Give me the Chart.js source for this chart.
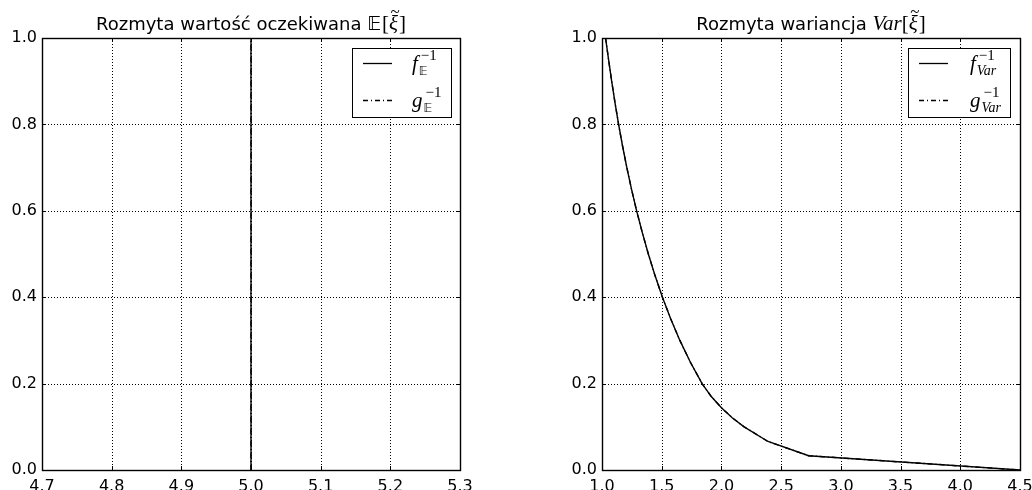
<!DOCTYPE html>
<html><head><meta charset="utf-8">
<script src="https://cdn.jsdelivr.net/npm/chart.js@4"></script>
<style>
html,body{margin:0;padding:0;background:#fff;}
#wrap{position:relative;width:1032px;height:490px;overflow:hidden;}
canvas{position:absolute;top:0;}
</style></head><body>
<div id="wrap"><canvas id="c1" width="516" height="490" style="left:0"></canvas><canvas id="c2" width="516" height="490" style="left:516px"></canvas></div>
<script>
// ---- data ----
const yTicks = [0.0, 0.2, 0.4, 0.6, 0.8, 1.0];
const xTicksE = [4.7, 4.8, 4.9, 5.0, 5.1, 5.2, 5.3];
const xTicksVar = [1.0, 1.5, 2.0, 2.5, 3.0, 3.5, 4.0, 4.5];

const fE_x = [5.0, 5.0];
const fE_y = [0.0, 1.0];
const gE_x = [5.0, 5.0];
const gE_y = [0.0, 1.0];

const fVar_x = [1.03, 1.055, 1.081, 1.109, 1.139, 1.172, 1.208, 1.247, 1.29, 1.337, 1.388, 1.444, 1.506, 1.575, 1.652, 1.739, 1.838, 1.915, 2.0, 2.09, 2.19, 2.39, 2.73, 4.5];
const fVar_y = [1.0, 0.95, 0.90, 0.85, 0.80, 0.75, 0.70, 0.65, 0.60, 0.55, 0.50, 0.45, 0.40, 0.35, 0.30, 0.25, 0.20, 0.17, 0.144, 0.121, 0.100, 0.066, 0.033, 0.0];
const gVar_x = [1.03, 1.055, 1.081, 1.109, 1.139, 1.172, 1.208, 1.247, 1.29, 1.337, 1.388, 1.444, 1.506, 1.575, 1.652, 1.739, 1.838, 1.915, 2.0, 2.09, 2.19, 2.39, 2.73, 4.5];
const gVar_y = [1.0, 0.95, 0.90, 0.85, 0.80, 0.75, 0.70, 0.65, 0.60, 0.55, 0.50, 0.45, 0.40, 0.35, 0.30, 0.25, 0.20, 0.17, 0.144, 0.121, 0.100, 0.066, 0.033, 0.0];

const titleE = "Rozmyta wartość oczekiwana ";
const titleVar = "Rozmyta wariancja ";
// ---- end data ----

const SANS = "'DejaVu Sans', sans-serif";
const SERIF = "'Liberation Serif', 'DejaVu Serif', serif";
const DASHDOT = [5, 3, 1, 3];

function pts(xs, ys){ return xs.map((x,i)=>({x:x, y:ys[i]})); }

function drawParts(ctx, x, y, parts, measureOnly){
  let cx = x;
  for(const p of parts){
    ctx.font = p.font;
    const w = ctx.measureText(p.t).width;
    if(!measureOnly){
      ctx.fillText(p.t, cx + (p.dx||0), y + (p.dy||0));
      if(p.tilde){
        ctx.save();
        ctx.font = p.tildeFont;
        const tw = ctx.measureText("~").width;
        ctx.fillText("~", cx + w/2 - tw/2 + 1.5, y - p.tildeUp);
        ctx.restore();
      }
    }
    cx += w + (p.after||0);
  }
  return cx - x;
}

function makePlugin(cfg){
  return {
    id:'mpl',
    beforeDatasetsDraw(chart){
      const ctx = chart.ctx, a = chart.chartArea;
      const xs = chart.scales.x, ys = chart.scales.y;
      ctx.save();
      ctx.strokeStyle = '#000';
      ctx.lineWidth = 1;
      ctx.setLineDash([1,2]);
      for(const v of cfg.xTicks){
        const px = Math.round(xs.getPixelForValue(v)) + 0.5;
        ctx.beginPath(); ctx.moveTo(px, a.top); ctx.lineTo(px, a.bottom); ctx.stroke();
      }
      for(const v of yTicks){
        const py = Math.round(ys.getPixelForValue(v)) + 0.5;
        ctx.beginPath(); ctx.moveTo(a.left, py); ctx.lineTo(a.right, py); ctx.stroke();
      }
      ctx.restore();
    },
    afterDraw(chart){
      const ctx = chart.ctx, a = chart.chartArea;
      const xs = chart.scales.x, ys = chart.scales.y;
      ctx.save();
      ctx.setLineDash([]);
      ctx.strokeStyle = '#000';
      ctx.lineWidth = 1;
      const L = 4;
      ctx.beginPath();
      for(const v of cfg.xTicks){
        const px = Math.round(xs.getPixelForValue(v)) + 0.5;
        ctx.moveTo(px, a.bottom); ctx.lineTo(px, a.bottom - L);
        ctx.moveTo(px, a.top); ctx.lineTo(px, a.top + L);
      }
      for(const v of yTicks){
        const py = Math.round(ys.getPixelForValue(v)) + 0.5;
        ctx.moveTo(a.left, py); ctx.lineTo(a.left + L, py);
        ctx.moveTo(a.right, py); ctx.lineTo(a.right - L, py);
      }
      ctx.stroke();
      ctx.lineWidth = 1.4;
      ctx.strokeRect(Math.round(a.left)+0.5, Math.round(a.top)+0.5, Math.round(a.right-a.left), Math.round(a.bottom-a.top));
      // title
      ctx.fillStyle = '#000';
      ctx.textBaseline = 'alphabetic';
      ctx.textAlign = 'left';
      const tw = drawParts(ctx, 0, 0, cfg.title, true);
      const cxm = (a.left + a.right)/2;
      drawParts(ctx, cxm - tw/2, 30, cfg.title, false);
      // legend
      const b = cfg.box;
      ctx.fillStyle = '#fff';
      ctx.fillRect(b.x, b.y, b.w, b.h);
      ctx.lineWidth = 1;
      ctx.strokeStyle = '#000';
      ctx.strokeRect(b.x + 0.5, b.y + 0.5, b.w, b.h);
      ctx.fillStyle = '#000';
      cfg.legend.forEach((e, i)=>{
        const ly = b.y + 15.5 + i*37;
        ctx.save();
        ctx.lineWidth = 1.3;
        ctx.setLineDash(e.dash);
        ctx.beginPath(); ctx.moveTo(b.x + 11, ly); ctx.lineTo(b.x + 40, ly); ctx.stroke();
        ctx.restore();
        const tx = b.x + cfg.labelX;
        const base = ly + 6;
        ctx.font = "italic 21px " + SERIF;
        ctx.fillText(e.letter, tx, base);
        const lw = ctx.measureText(e.letter).width;
        ctx.font = "15px " + SERIF;
        ctx.fillText("\u22121", tx + lw + 3, base - 10);
        ctx.font = e.subFont;
        ctx.fillText(e.sub, tx + lw + e.subDx, base + 5);
      });
      ctx.restore();
    }
  };
}

function makeChart(id, xT, fx, fy, gx, gy, padL, padR, pcfg){
  const xmin = xT[0], xmax = xT[xT.length-1];
  return new Chart(document.getElementById(id), {
    type:'scatter',
    data:{ datasets:[
      {data: pts(fx, fy), showLine:true, borderColor:'#000', borderWidth:1.4, pointRadius:0, fill:false},
      {data: pts(gx, gy), showLine:true, borderColor:'#000', borderWidth:1.4, pointRadius:0, fill:false, borderDash: DASHDOT}
    ]},
    options:{
      responsive:false, animation:false, devicePixelRatio:1,
      layout:{ padding:{ left:padL, right:padR, top:38, bottom:0 } },
      plugins:{ legend:{display:false}, tooltip:{enabled:false}, title:{display:false} },
      scales:{
        x:{ type:'linear', min:xmin, max:xmax,
            afterBuildTicks: s=>{ s.ticks = xT.map(v=>({value:v})); },
            afterFit: s=>{ s.height = 20; s.paddingLeft = 0; s.paddingRight = 0; },
            ticks:{ callback: v=>Number(v).toFixed(1), color:'#000', font:{family:SANS, size:16}, padding:7, maxRotation:0, autoSkip:false },
            grid:{ display:false, drawTicks:false }, border:{ display:false } },
        y:{ type:'linear', min:0, max:1,
            afterBuildTicks: s=>{ s.ticks = yTicks.map(v=>({value:v})); },
            afterFit: s=>{ s.width = 42; s.paddingTop = 0; s.paddingBottom = 0; },
            ticks:{ callback: v=>Number(v).toFixed(1), color:'#000', font:{family:SANS, size:16}, padding:5, autoSkip:false },
            grid:{ display:false, drawTicks:false }, border:{ display:false } }
      }
    },
    plugins:[ makePlugin(pcfg) ]
  });
}

const xiParts = [
  {t:"[", font:"21px " + SERIF},
  {t:"\u03BE", font:"italic 21px " + SERIF, tilde:true, tildeFont:"17px " + SERIF, tildeUp:13, after:1},
  {t:"]", font:"21px " + SERIF}
];

makeChart('c1', xTicksE, fE_x, fE_y, gE_x, gE_y, 0, 56, {
  xTicks: xTicksE,
  title: [ {t:titleE, font:"18px " + SANS}, {t:"\uD835\uDD3C", font:"19px " + SANS, after:1} ].concat(xiParts),
  box: {x:352, y:48, w:99, h:69},
  labelX: 60,
  legend: [
    {letter:"f", sub:"\uD835\uDD3C", subFont:"12px " + SANS, dash:[], subDx:1},
    {letter:"g", sub:"\uD835\uDD3C", subFont:"12px " + SANS, dash:DASHDOT, subDx:1}
  ]
});

makeChart('c2', xTicksVar, fVar_x, fVar_y, gVar_x, gVar_y, 44, 12, {
  xTicks: xTicksVar,
  title: [ {t:titleVar, font:"18px " + SANS}, {t:"Var", font:"italic 21px " + SERIF} ].concat(xiParts),
  box: {x:392, y:48, w:102, h:69},
  labelX: 62,
  legend: [
    {letter:"f", sub:"Var", subFont:"italic 14px " + SERIF, dash:[], subDx:1},
    {letter:"g", sub:"Var", subFont:"italic 14px " + SERIF, dash:DASHDOT, subDx:1}
  ]
});
</script>
</body></html>
